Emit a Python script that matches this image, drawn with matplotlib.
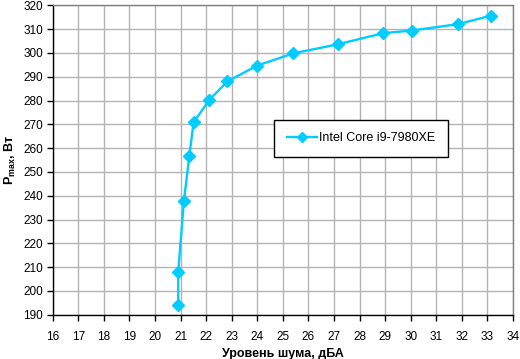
import matplotlib
matplotlib.use("Agg")
import matplotlib.pyplot as plt

noise_dba = [20.91, 20.91, 21.13, 21.34, 21.51, 22.13, 22.83, 24.0, 25.41, 27.14, 28.93, 30.04, 31.86, 33.15]
pmax_w = [194.1, 208.1, 237.6, 256.5, 270.8, 280.3, 288.0, 294.7, 299.8, 303.6, 308.3, 309.4, 312.1, 315.7]
series_name = "Intel Core i9-7980XE"
x_ticks = list(range(16, 35))
y_ticks = list(range(190, 321, 10))

plt.rcParams['font.family'] = ['Liberation Sans', 'DejaVu Sans']

fig = plt.figure(figsize=(5.2, 3.59), dpi=100)
ax = fig.add_axes([0.1013, 0.1234, 0.8852, 0.8618])

color = '#00CCFF'
ax.plot(noise_dba, pmax_w, color=color, lw=1.7, marker='D', markersize=6.5,
        markeredgecolor=color, label=series_name, zorder=3)

ax.set_xlim(16, 34)
ax.set_ylim(190, 320)
ax.set_xticks(x_ticks)
ax.set_yticks(y_ticks)
ax.grid(True, color='#b4b4b4', lw=1, zorder=0)
ax.set_axisbelow(True)
for s in ['top', 'right']:
    ax.spines[s].set_color('#808080')
for s in ['left', 'bottom']:
    ax.spines[s].set_color('black')
for s in ax.spines.values():
    s.set_linewidth(1)
ax.tick_params(direction='out', length=4, width=1, color='black', labelsize=8.5, pad=3)
ax.tick_params(axis='x', pad=8)

ax.set_xlabel('Уровень шума, дБА', fontsize=9, fontweight='bold', labelpad=3)
ax.set_ylabel(r'P$_{\mathregular{max}}$, Вт', fontsize=9, fontweight='bold', labelpad=4)

leg = ax.legend(loc='center', bbox_to_anchor=(0.67, 0.571), frameon=True, fancybox=False,
                fontsize=9, borderpad=1.0, handlelength=2.4, handletextpad=0.2,
                borderaxespad=0, markerscale=0.8)
leg.get_frame().set_edgecolor('black')
leg.get_frame().set_linewidth(1)
leg.get_frame().set_alpha(1)

fig.savefig('out.png', dpi=100)
